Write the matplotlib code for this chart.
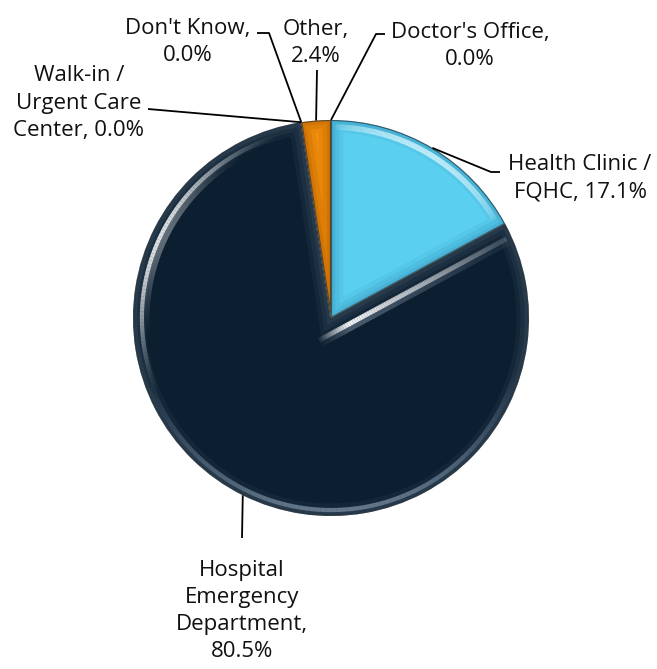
import numpy as np
import matplotlib
matplotlib.use("Agg")
import matplotlib.pyplot as plt
from matplotlib.patches import Wedge
from matplotlib.collections import LineCollection

# ── Data ────────────────────────────────────────────────────
categories = ["Doctor's Office", "Health Clinic / FQHC", "Hospital Emergency Department",
              "Walk-in / Urgent Care Center", "Don't Know", "Other"]
shares = [0.0, 17.1, 80.5, 0.0, 0.0, 2.4]
label_heads = ["Doctor's Office,\n", "Health Clinic /\nFQHC, ", "Hospital\nEmergency\nDepartment,\n",
               "Walk-in /\nUrgent Care\nCenter, ", "Don't Know,\n", "Other,\n"]
colors = ["#4f81bd", "#5bcfef", "#0c1f30", "#8064a2", "#9bbb59", "#f2900e"]
rim_colors = ["#4f81bd", "#3fa9cc", "#34485a", "#8064a2", "#9bbb59", "#c46a00"]

# ── Figure geometry (pixels) ────────────────────────────────
W, H = 657, 669
CX, CY, R = 331, 318, 198

def px(x, y):
    return (x - CX) / R, (CY - y) / R

def arc_streak(ax, clip, r, t0, t1, rgb, amax, lw, power=1.0):
    t = np.radians(np.linspace(t0, t1, 90))
    pts = np.column_stack([r * np.cos(t), r * np.sin(t)])
    segs = np.stack([pts[:-1], pts[1:]], axis=1)
    alph = np.sin(np.linspace(0, np.pi, len(segs))) ** power
    lc = LineCollection(segs, colors=[(*rgb, a * amax) for a in alph], linewidths=lw,
                        zorder=5, capstyle="butt")
    ax.add_collection(lc)
    lc.set_clip_path(clip)

fig = plt.figure(figsize=(W / 100, H / 100), dpi=100)
ax = fig.add_axes([0, 0, 1, 1])

wedges, _ = ax.pie(shares, colors=colors, startangle=90, counterclock=False, radius=1,
                   wedgeprops=dict(edgecolor="white", linewidth=1.2))

# ── Bevel look ──────────────────────────────────────────────
for w, rc in zip(wedges, rim_colors):
    if abs(w.theta2 - w.theta1) < 1e-6:
        continue
    for lw, a in [(18, 0.2), (12, 0.3), (6, 0.45)]:
        rim = Wedge(w.center, w.r, w.theta1, w.theta2, fill=False, edgecolor=rc,
                    linewidth=lw, alpha=a, zorder=3)
        ax.add_patch(rim)
        rim.set_clip_path(w)
    dark = Wedge(w.center, w.r, w.theta1, w.theta2, fill=False, edgecolor="#0a141c",
                 linewidth=1.6, alpha=0.6, zorder=4)
    ax.add_patch(dark)
    dark.set_clip_path(w)

hosp = wedges[2]
# glossy streaks on the hospital rim
arc_streak(ax, hosp, 0.955, 105, 205, (1, 1, 1), 0.85, 3, power=1.5)
arc_streak(ax, hosp, 0.93, 115, 190, (1, 1, 1), 0.35, 4, power=2)
arc_streak(ax, hosp, 0.97, 200, 345, (0.62, 0.7, 0.78), 0.55, 3)
# streak along the edge next to the health clinic slice
ang = np.radians(hosp.theta2)
d = np.array([np.cos(ang), np.sin(ang)])
nrm = np.array([np.sin(ang), -np.cos(ang)])
r = np.linspace(-0.12, 0.97, 80)
for off, lw, amax, rgb in [(0.085, 6, 0.5, (0.55, 0.62, 0.7)), (0.07, 3.5, 0.95, (1, 1, 1))]:
    pts = r[:, None] * d + off * nrm
    segs = np.stack([pts[:-1], pts[1:]], axis=1)
    alph = np.clip(np.linspace(0, 1, len(segs)) * 6, 0, 1) * np.clip(1.15 - np.linspace(0, 1, len(segs)), 0, 1)
    lc = LineCollection(segs, colors=[(*rgb, a * amax) for a in alph], linewidths=lw, zorder=5)
    ax.add_collection(lc)
    lc.set_clip_path(hosp)

# health clinic highlight along top rim
hc = wedges[1]
arc_streak(ax, hc, 0.965, hc.theta1 + 2, hc.theta2 - 1, (0.86, 0.97, 1), 0.8, 4, power=0.5)

# ── Labels with leader lines ────────────────────────────────
txt_pos = [(470, 46), (580, 178), (242, 611), (79, 103), (188, 42), (316, 43)]
leader = [[(385, 34), (376, 34)], [(500, 172), (491, 172)], [(242, 538)],
          [(148, 109)], [(257, 33), (269, 33)], [(317, 70)]]
for i, (w, head) in enumerate(zip(wedges, label_heads)):
    if shares[i] == 0:
        mid = np.radians(w.theta2 if i == 0 else w.theta1)
    else:
        mid = np.radians((w.theta1 + w.theta2) / 2)
    tip = (np.cos(mid), np.sin(mid))
    path = [px(*p) for p in leader[i]] + [tip]
    xs, ys = zip(*path)
    ax.plot(xs, ys, color="black", linewidth=1.3, zorder=6, solid_capstyle="butt")
    ax.text(*px(*txt_pos[i]), f"{head}{shares[i]:.1f}%", ha="center", va="center",
            fontsize=16, family="Open Sans", linespacing=1.38, color="#111111")

ax.set_xlim(-CX / R, (W - CX) / R)
ax.set_ylim(-(H - CY) / R, CY / R)
ax.set_aspect("auto")
ax.axis("off")

fig.savefig("out.png", dpi=100)
